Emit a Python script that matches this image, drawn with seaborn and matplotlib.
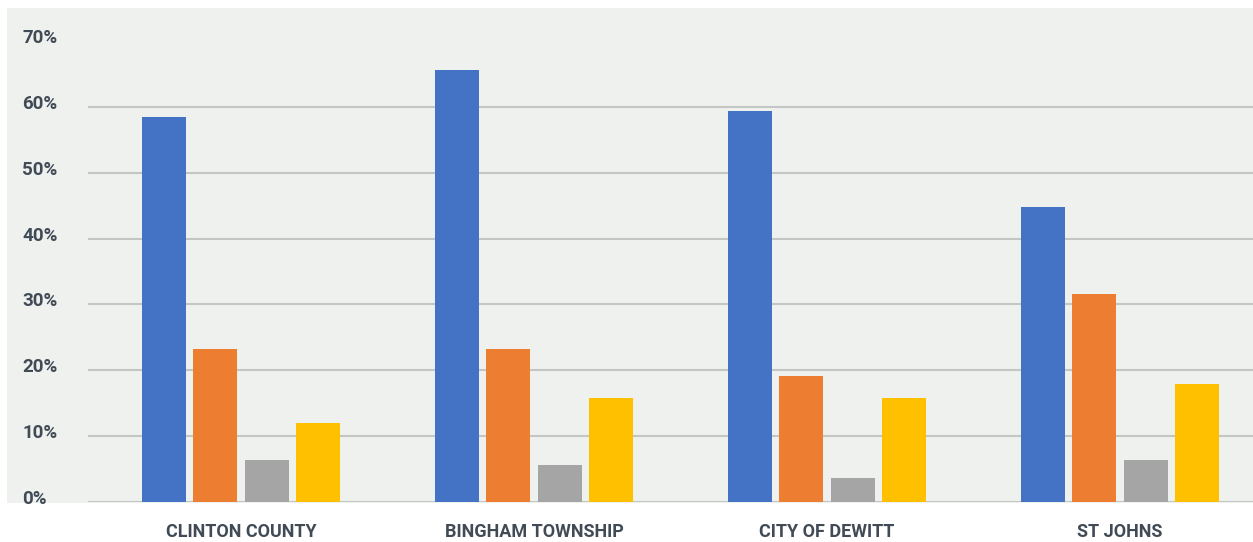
import matplotlib
matplotlib.use("Agg")
import matplotlib.pyplot as plt
import matplotlib.transforms as mtransforms
from matplotlib.patches import Rectangle
import pandas as pd
import seaborn as sns

# Places shown along the x axis
places = ["CLINTON COUNTY", "BINGHAM TOWNSHIP", "CITY OF DEWITT", "ST JOHNS"]

# Share (%) for each of the four series, one value per place
series_names = ["Series 1", "Series 2", "Series 3", "Series 4"]
series_1 = [58.5, 65.6, 59.4, 44.8]
series_2 = [23.2, 23.2, 19.1, 31.6]
series_3 = [6.4, 5.6, 3.6, 6.4]
series_4 = [12.0, 15.8, 15.8, 17.9]

y_ticks = [0, 10, 20, 30, 40, 50, 60, 70]
y_tick_labels = ["0%", "10%", "20%", "30%", "40%", "50%", "60%", "70%"]

palette = ["#4472C4", "#ED7D31", "#A5A5A5", "#FFC000"]
panel_color = "#eff1ee"
text_color = "#414b56"
grid_color = "#c4c6c3"

rows = []
for name, vals in zip(series_names, [series_1, series_2, series_3, series_4]):
    for place, v in zip(places, vals):
        rows.append({"place": place, "series": name, "value": v})
df = pd.DataFrame(rows)

sns.set_theme(style="white")
plt.rcParams["font.family"] = ["Roboto", "DejaVu Sans"]

W, H, DPI = 1253, 542, 100
fig = plt.figure(figsize=(W / DPI, H / DPI), dpi=DPI, facecolor="white")

# Light panel behind the plotting area
fig.patches.append(Rectangle((7 / W, 1 - 503 / H), (W - 7) / W, (503 - 8) / H,
                             transform=fig.transFigure, facecolor=panel_color,
                             edgecolor="none", zorder=-10))

ax = fig.add_axes([88 / W, 1 - 502 / H, (W - 88) / W, (502 - 41) / H])
ax.set_facecolor("none")
ax.set_zorder(1)

sns.barplot(data=df, x="place", y="value", hue="series", order=places,
            hue_order=series_names, palette=palette, width=0.70, gap=0.143,
            saturation=1, legend=False, linewidth=0, ax=ax, zorder=3)

ax.set_ylim(0, 70)
ax.set_xlim(-0.522, 3.454)
ax.set_yticks(y_ticks)
ax.set_yticklabels(y_tick_labels)
ax.set_xlabel("")
ax.set_ylabel("")

for s in ax.spines.values():
    s.set_visible(False)

ax.yaxis.grid(True, color=grid_color, linewidth=1.5, zorder=1)
ax.set_axisbelow(True)
# no rule across the top
ax.get_ygridlines()[-1].set_visible(False)

ax.tick_params(axis="y", length=0, pad=47.5, labelsize=13.5, labelcolor=text_color)
ax.tick_params(axis="x", length=0, pad=15, labelsize=13, labelcolor=text_color)

shift = mtransforms.ScaledTranslation(0, 5 / DPI, fig.dpi_scale_trans)
for lbl in ax.get_yticklabels():
    lbl.set_horizontalalignment("left")
    lbl.set_fontweight("bold")
    lbl.set_transform(lbl.get_transform() + shift)
for lbl in ax.get_xticklabels():
    lbl.set_fontweight("bold")

fig.savefig("out.png", dpi=DPI, facecolor="white")
